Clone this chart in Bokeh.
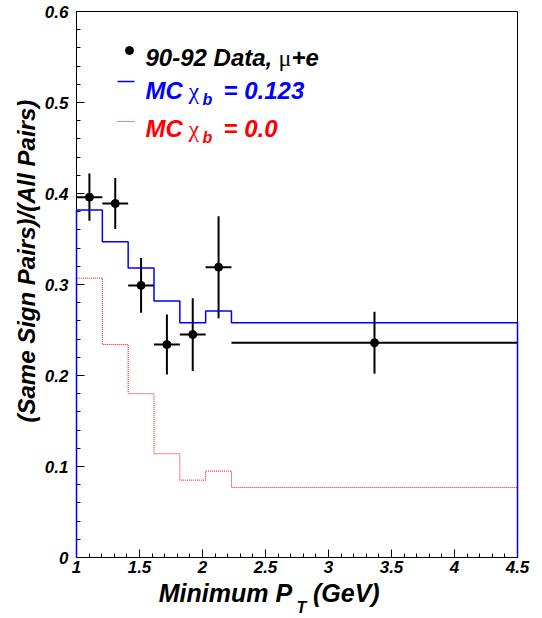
import math
from bokeh.plotting import figure
from bokeh.models import (Range1d, FixedTicker, CustomJSTickFormatter,
                          Label, ColumnDataSource, LinearAxis)
from bokeh.embed import file_html
from bokeh.resources import INLINE

# ---------------- data ----------------
bin_edges = [1.0, 1.205, 1.41, 1.615, 1.82, 2.025, 2.23, 4.5]
mc_chi_0123 = [0.382, 0.347, 0.318, 0.282, 0.258, 0.271, 0.258]
mc_chi_00 = [0.307, 0.234, 0.180, 0.114, 0.085, 0.095, 0.077]
data_ratio = [0.396, 0.389, 0.299, 0.234, 0.245, 0.319, 0.236]
data_err = [0.026, 0.028, 0.030, 0.033, 0.040, 0.056, 0.034]

x_ticks = [1.0, 1.5, 2.0, 2.5, 3.0, 3.5, 4.0, 4.5]
y_ticks = [0.0, 0.1, 0.2, 0.3, 0.4, 0.5, 0.6]
n_minor = 5

NB = "\u00a0"
x_title = "Minimum P" + NB * 3 + "(GeV)" + NB * 8
x_title_sub = NB * 2 + "T"
y_title = NB * 7 + "(Same Sign Pairs)/(All Pairs)"

# ---------------- layout ----------------
W, H = 542, 618
BL, BR, BT, BB = 76, 25, 11, 61
X0, X1 = 1.0, 4.5
Y0, Y1 = 0.0, 0.6
FL, FR, FT, FB = BL, W - BR, BT, H - BB


def px(xp):
    return X0 + (xp - FL) * (X1 - X0) / (FR - FL)


def py(yp):
    return Y0 + (FB - yp) * (Y1 - Y0) / (FB - FT)


def minors(ticks, n):
    out = []
    for a, b in zip(ticks[:-1], ticks[1:]):
        out += [a + (b - a) * k / n for k in range(1, n)]
    return out


p = figure(width=W, height=H, output_backend="svg", toolbar_location=None,
           x_range=Range1d(X0, X1), y_range=Range1d(Y0, Y1),
           min_border_left=BL, min_border_right=BR, min_border_top=BT,
           min_border_bottom=BB)
p.grid.visible = False
p.outline_line_color = "black"
p.outline_line_width = 1
p.background_fill_color = "white"
p.border_fill_color = "white"

FONT = "Liberation Sans"

fmt = CustomJSTickFormatter(code="return tick.toFixed(1).replace(/\\.0$/, '');")
p.xaxis.ticker = FixedTicker(ticks=x_ticks, minor_ticks=minors(x_ticks, n_minor))
p.yaxis.ticker = FixedTicker(ticks=y_ticks, minor_ticks=minors(y_ticks, n_minor))
for ax in (p.xaxis[0], p.yaxis[0]):
    ax.formatter = fmt
    ax.major_tick_in = 8
    ax.major_tick_out = 0
    ax.minor_tick_in = 4
    ax.minor_tick_out = 0
    ax.axis_line_color = "black"
    ax.major_tick_line_color = "black"
    ax.minor_tick_line_color = "black"
    ax.major_label_text_font = FONT
    ax.major_label_text_font_style = "bold italic"
    ax.major_label_text_font_size = "17px"
    ax.major_label_text_color = "black"
    ax.axis_label_text_font = FONT
    ax.axis_label_text_font_style = "bold italic"
    ax.axis_label_text_color = "black"
p.xaxis.major_label_standoff = 3
p.yaxis.major_label_standoff = 8

p.xaxis.axis_label = x_title
p.xaxis.axis_label_text_font_size = "25px"
p.xaxis.axis_label_standoff = 3
p.yaxis.axis_label = y_title
p.yaxis.axis_label_text_font_size = "24px"
p.yaxis.axis_label_standoff = 2

# subscript "T" of the x title, carried by a bare extra axis
sub_ax = LinearAxis(ticker=FixedTicker(ticks=[]), axis_line_color=None,
                    major_tick_line_color=None, minor_tick_line_color=None,
                    major_label_standoff=0, axis_label=x_title_sub,
                    axis_label_text_font=FONT, axis_label_text_font_style="bold italic",
                    axis_label_text_font_size="16px", axis_label_text_color="black",
                    axis_label_standoff=-11)
p.add_layout(sub_ax, "below")


def steps(edges, vals):
    xs, ys = [edges[0]], [0.0]
    for i, v in enumerate(vals):
        xs += [edges[i], edges[i + 1]]
        ys += [v, v]
    xs.append(edges[-1])
    ys.append(0.0)
    return xs, ys


rx, ry = steps(bin_edges, mc_chi_00)
p.line(rx, ry, line_color="#ff0000", line_width=1, line_dash="1 1")
bx, by = steps(bin_edges, mc_chi_0123)
r_blue = p.line(bx, by, line_color="#0000ff", line_width=1.5)
r_blue.level = "overlay"

centers = [(bin_edges[i] + bin_edges[i + 1]) / 2 for i in range(len(data_ratio))]
src = ColumnDataSource(dict(
    x=centers, y=data_ratio,
    xl=bin_edges[:-1], xr=bin_edges[1:],
    yl=[v - e for v, e in zip(data_ratio, data_err)],
    yh=[v + e for v, e in zip(data_ratio, data_err)],
))
p.segment(x0="xl", x1="xr", y0="y", y1="y", source=src, line_color="black", line_width=2)
p.segment(x0="x", x1="x", y0="yl", y1="yh", source=src, line_color="black", line_width=2)
p.scatter(x="x", y="y", source=src, size=8, color="black")


def lab(text, xp, yp, size, color="black", style="bold italic", font=FONT):
    p.add_layout(Label(x=px(xp), y=py(yp), text=text, text_font=font,
                       text_font_style=style, text_font_size=f"{size}px",
                       text_color=color, text_align="left",
                       text_baseline="alphabetic"))


# ---- legend (inside the frame) ----
p.scatter([px(129)], [py(50)], size=8, color="black")
p.segment([px(117)], [py(81)], [px(134)], [py(81)], line_color="#0000ff", line_width=1.5)
p.segment([px(117)], [py(121)], [px(134)], [py(121)], line_color="#ff0000",
          line_width=1, line_dash="1 1")

lab("90-92 Data,", 145, 57, 24)
lab("\u03bc", 278, 57, 24, style="normal", font="Liberation Serif")
lab("+e", 291, 57, 24)

for yb, col, val in ((90, "#0000ff", "= 0.123"), (128, "#ff0000", "= 0.0")):
    lab("MC", 145, yb, 24, color=col)
    lab("\u03c7", 188, yb, 24, color=col, style="normal", font="Liberation Serif")
    lab("b", 202, yb + 9, 16, color=col)
    lab(val, 223, yb, 24, color=col)

open("out.html", "w").write(file_html(p, INLINE))
